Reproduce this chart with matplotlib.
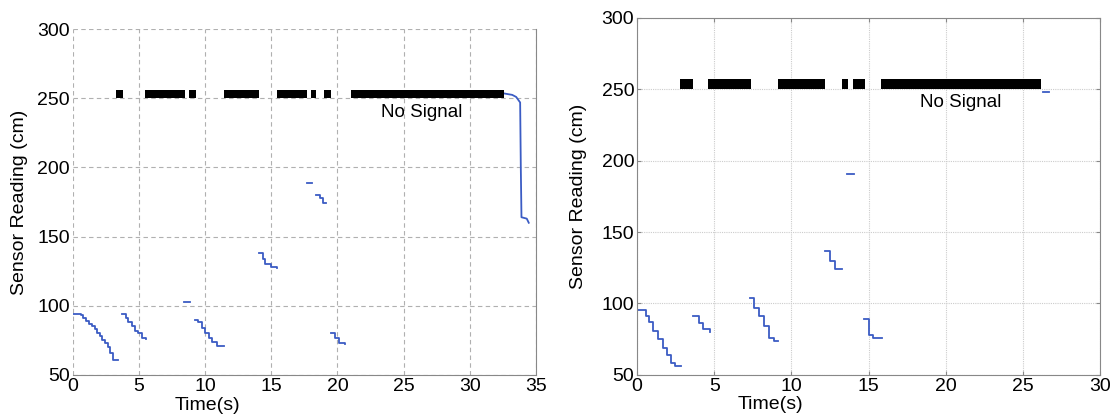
import numpy as np
import matplotlib.pyplot as plt

plt.rcParams['font.family'] = ['Liberation Sans', 'DejaVu Sans']

# left run: no-signal intervals (start, end) in s
left_gap_start = [3.3, 5.5, 8.8, 11.4, 15.4, 18.0, 19.0, 21.0]
left_gap_end = [3.8, 8.5, 9.3, 14.1, 17.7, 18.4, 19.5, 32.6]

# left run: sensor readings, one list pair per segment
left_t = [
    [0, 0.6, 0.8, 1.0, 1.2, 1.45, 1.65, 1.85, 2.05, 2.25, 2.45, 2.65, 2.85, 3.05, 3.4],
    [3.75, 4.0, 4.2, 4.45, 4.7, 4.95, 5.2, 5.55],
    [8.4, 8.85],
    [9.25, 9.5, 9.75, 10.0, 10.3, 10.55, 10.9, 11.4],
    [14.1, 14.35, 14.55, 15.0, 15.45],
    [17.7, 18.1],
    [18.4, 18.7, 18.9, 19.1],
    [19.5, 19.85, 20.15, 20.55],
]
left_v = [
    [94, 93, 91, 89, 87, 85, 83, 80, 78, 75, 73, 70, 66, 61, 61],
    [94, 91, 88, 85, 82, 80, 77, 76],
    [102.5, 102.5],
    [90, 88, 84, 80, 77, 74, 71, 71],
    [138, 134, 130, 128, 127],
    [189, 189],
    [180, 178, 174, 174],
    [80, 77, 73, 72],
]
# final approach after signal comes back
left_end_t = [32.6, 33.2, 33.5, 33.8, 33.85, 33.9, 34.3, 34.45]
left_end_v = [253.5, 252.5, 251, 247, 200, 164, 163, 160]

# right run
right_gap_start = [2.8, 4.6, 9.1, 13.3, 14.0, 15.8]
right_gap_end = [3.6, 7.4, 12.2, 13.7, 14.8, 26.2]

right_t = [
    [0, 0.55, 0.8, 1.05, 1.35, 1.65, 1.95, 2.2, 2.45, 2.85],
    [3.6, 4.0, 4.3, 4.7],
    [7.3, 7.6, 7.9, 8.25, 8.55, 8.85, 9.15],
    [13.6, 14.05],
    [12.2, 12.5, 12.8, 13.25],
    [14.7, 15.05, 15.3, 15.85],
    [26.3, 26.7],
]
right_v = [
    [95.5, 91, 87, 81, 75, 69, 64, 58, 56, 56],
    [91, 86, 82, 80],
    [104, 97, 91, 84, 76, 74, 74],
    [191, 191],
    [137, 130, 124, 124],
    [89, 78, 76, 76],
    [248, 248],
]

blue = '#3b5cc4'

fig = plt.figure(figsize=(11.2, 4.17), dpi=100)
ax1 = fig.add_axes([0.0649, 0.101, 0.4137, 0.829])
ax2 = fig.add_axes([0.5688, 0.101, 0.4134, 0.856])

# ---- left plot ----
ax1.set_axisbelow(True)
ax1.broken_barh([(s, e - s) for s, e in zip(left_gap_start, left_gap_end)], (250, 6),
                facecolor='black', edgecolor='none', zorder=3)
for t, v in zip(left_t, left_v):
    ax1.plot(t, v, color=blue, lw=1.3, drawstyle='steps-post')
ax1.plot(left_end_t, left_end_v, color=blue, lw=1.3)
ax1.text(26.4, 240, 'No Signal', ha='center', va='center', fontsize=13.5)
ax1.set_xlim(0, 35)
ax1.set_ylim(50, 300)
ax1.set_xticks(np.arange(0, 36, 5))
ax1.set_yticks(np.arange(50, 301, 50))
ax1.grid(True, color='#b0b0b0', ls=(0, (4, 3)), lw=0.8)
ax1.spines['top'].set_visible(False)
ax1.spines['left'].set_visible(False)
ax1.spines['right'].set_bounds(50, 300)
for s in ['right', 'bottom']:
    ax1.spines[s].set_color('#888888')
ax1.tick_params(length=0, labelsize=14, pad=2)
ax1.set_xlabel('Time(s)', fontsize=14)
ax1.set_ylabel('Sensor Reading (cm)', fontsize=14)
ax1.xaxis.set_label_coords(0.29, -0.065)
ax1.yaxis.set_label_coords(-0.097, 0.5)

# ---- right plot ----
ax2.set_axisbelow(True)
ax2.broken_barh([(s, e - s) for s, e in zip(right_gap_start, right_gap_end)], (250, 7),
                facecolor='black', edgecolor='none', zorder=3)
for t, v in zip(right_t, right_v):
    ax2.plot(t, v, color=blue, lw=1.3, drawstyle='steps-post')
ax2.text(21.0, 240.6, 'No Signal', ha='center', va='center', fontsize=13.5)
ax2.set_xlim(0, 30)
ax2.set_ylim(50, 300)
ax2.set_xticks(np.arange(0, 31, 5))
ax2.set_yticks(np.arange(50, 301, 50))
ax2.grid(True, color='#cccccc', ls=(0, (1, 1)), lw=0.8)
for s in ax2.spines.values():
    s.set_color('#888888')
ax2.tick_params(direction='in', length=3, color='#888888', labelsize=14, pad=2,
                top=True, right=True)
ax2.set_xlabel('Time(s)', fontsize=14)
ax2.set_ylabel('Sensor Reading (cm)', fontsize=14)
ax2.xaxis.set_label_coords(0.287, -0.06)
ax2.yaxis.set_label_coords(-0.108, 0.5)

fig.savefig('out.png', dpi=100)
